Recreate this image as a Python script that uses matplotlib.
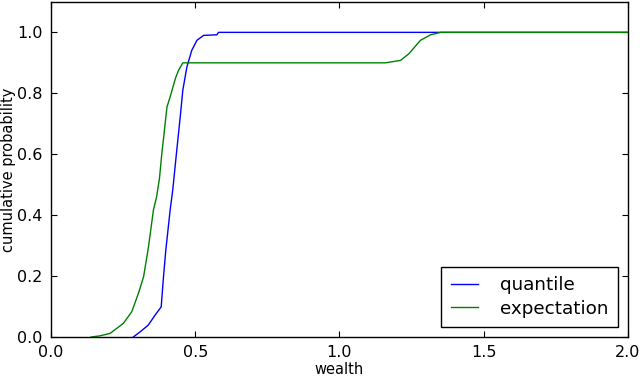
import numpy as np
import matplotlib
matplotlib.use("Agg")
import matplotlib.pyplot as plt

# cumulative distributions
wealth_q = [0.285, 0.309, 0.337, 0.361, 0.382, 0.39, 0.398, 0.413, 0.422,
            0.436, 0.448, 0.457, 0.471, 0.488, 0.506, 0.529, 0.575, 0.581, 2.0]
prob_q = [0.0, 0.017, 0.039, 0.072, 0.099, 0.198, 0.285, 0.416, 0.482,
          0.613, 0.722, 0.81, 0.886, 0.941, 0.974, 0.99, 0.992, 1.0, 1.0]

wealth_e = [0.139, 0.17, 0.205, 0.251, 0.28, 0.303, 0.321, 0.338, 0.355,
            0.366, 0.376, 0.384, 0.392, 0.402, 0.413, 0.431, 0.442, 0.457, 1.16,
            1.212, 1.241, 1.281, 1.316, 1.351, 2.0]
prob_e = [0.0, 0.004, 0.012, 0.045, 0.083, 0.143, 0.198, 0.296, 0.416,
          0.46, 0.52, 0.6, 0.668, 0.755, 0.788, 0.848, 0.875, 0.9, 0.9,
          0.908, 0.93, 0.974, 0.992, 1.0, 1.0]

fig = plt.figure(figsize=(6.4, 3.77), dpi=100)
ax = fig.add_axes([0.0797, 0.106, 0.9013, 0.889])

ax.plot(wealth_q, prob_q, color="b", lw=1.0, label="quantile")
ax.plot(wealth_e, prob_e, color="g", lw=1.0, label="expectation")

ax.set_xlim(0, 2.0)
ax.set_ylim(0, 1.1)
ax.set_xticks(np.arange(0, 2.01, 0.5))
ax.set_yticks(np.arange(0, 1.01, 0.2))
ax.tick_params(direction="in", top=True, right=True, length=4, labelsize=11.5, pad=6)
for s in ax.spines.values():
    s.set_linewidth(1.0)

ax.set_xlabel("wealth", fontsize=10.5, labelpad=1)
ax.set_ylabel("cumulative probability", fontsize=10.5, labelpad=1)

leg = ax.legend(loc="lower right", fontsize=13.2, fancybox=False, framealpha=1,
                edgecolor="black", borderaxespad=0.55, handlelength=1.5,
                handletextpad=1.2, borderpad=0.5, labelspacing=0.3)
leg.get_frame().set_linewidth(1.0)

fig.savefig("out.png", dpi=100)
